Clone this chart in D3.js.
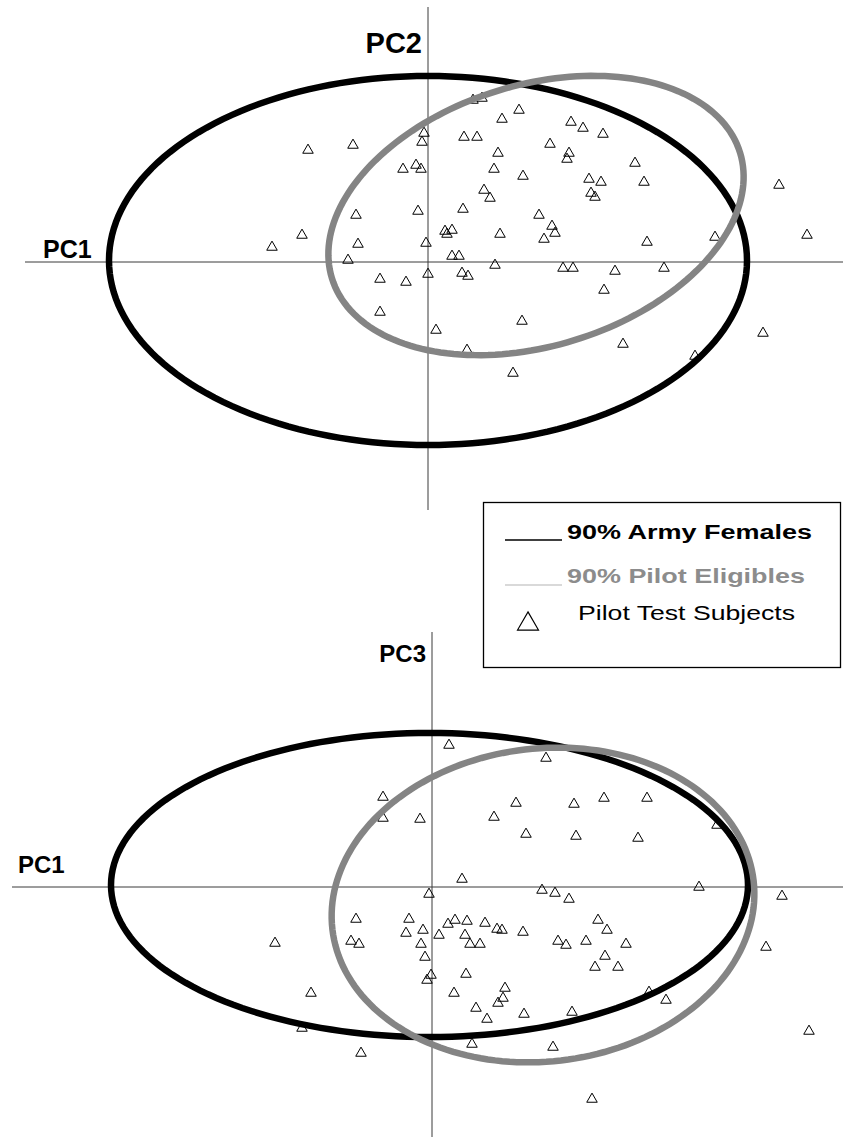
<!DOCTYPE html>
<html>
<head>
<meta charset="utf-8">
<script src="https://cdn.jsdelivr.net/npm/d3@7"></script>
<style>
  body { margin: 0; background: #fff; }
  svg { display: block; }
  text { font-family: "Liberation Sans", Arial, sans-serif; }
</style>
</head>
<body>
<div id="chart"></div>
<script>
// pilot test subject scores [PC1, PC2]
const subjectsPC1PC2 = [
  [0.90, 3.26], [1.08, 3.30], [1.82, 3.06], [1.48, 2.88], [-0.08, 2.60], [-0.12, 2.42],
  [0.72, 2.52], [0.98, 2.52], [-2.40, 2.26], [-1.50, 2.36], [1.40, 2.20], [-0.50, 1.88],
  [-0.24, 1.96], [-0.14, 1.88], [1.32, 1.88], [1.90, 1.74], [1.12, 1.46], [1.24, 1.30],
  [0.70, 1.08], [-0.20, 1.04], [-1.44, 0.96], [0.34, 0.64], [0.38, 0.58], [0.48, 0.66],
  [1.44, 0.58], [-2.52, 0.56], [-3.12, 0.32], [-1.40, 0.38], [-0.04, 0.40], [-1.60, 0.06],
  [0.48, 0.14], [0.62, 0.14], [1.34, -0.04], [0.00, -0.22], [-0.96, -0.32], [-0.44, -0.38],
  [0.68, -0.20], [0.80, -0.26], [2.86, 2.82], [3.10, 2.70], [3.50, 2.58], [2.44, 2.38],
  [2.82, 2.20], [2.78, 2.08], [4.14, 2.00], [3.22, 1.68], [3.46, 1.62], [4.32, 1.62],
  [3.26, 1.40], [3.34, 1.32], [7.02, 1.56], [2.22, 0.96], [2.48, 0.74], [2.54, 0.60],
  [2.32, 0.48], [4.38, 0.42], [5.74, 0.52], [7.58, 0.56], [2.70, -0.10], [2.90, -0.10],
  [3.74, -0.16], [4.72, -0.10], [-0.96, -0.98], [0.16, -1.34], [1.88, -1.16], [0.78, -1.74],
  [1.70, -2.20], [3.52, -0.54], [3.90, -1.62], [6.70, -1.40], [5.34, -1.86]
];

// pilot test subject scores [PC1, PC3]
const subjectsPC1PC3 = [
  [0.34, 2.86], [2.28, 2.60], [-0.98, 1.82], [-0.98, 1.40], [-0.24, 1.38], [1.68, 1.70],
  [1.24, 1.42], [1.88, 1.08], [0.60, 0.18], [-0.06, -0.12], [2.20, -0.04], [2.84, 1.68],
  [3.44, 1.80], [4.30, 1.80], [2.88, 1.04], [4.12, 1.00], [5.70, 1.26], [2.46, -0.10],
  [5.34, 0.02], [7.00, -0.16], [2.74, -0.22], [-1.52, -0.62], [-0.46, -0.62], [-0.18, -0.84],
  [-0.52, -0.90], [0.32, -0.72], [0.46, -0.64], [0.70, -0.66], [1.06, -0.70], [1.30, -0.82],
  [1.40, -0.84], [1.82, -0.88], [0.14, -0.94], [0.66, -0.94], [0.76, -1.12], [0.96, -1.12],
  [-0.22, -1.12], [-3.14, -1.10], [-1.62, -1.06], [-1.46, -1.12], [-0.14, -1.38], [-0.02, -1.74],
  [-0.10, -1.84], [0.68, -1.72], [-2.42, -2.10], [0.44, -2.10], [1.46, -2.00], [1.42, -2.20],
  [1.32, -2.30], [0.88, -2.40], [1.10, -2.62], [1.84, -2.52], [-2.60, -2.80], [0.80, -3.12],
  [3.32, -0.64], [3.50, -0.84], [2.52, -1.06], [2.68, -1.14], [3.08, -1.06], [3.88, -1.12],
  [3.46, -1.36], [3.26, -1.58], [3.72, -1.58], [6.68, -1.18], [4.34, -2.08], [4.68, -2.24],
  [2.80, -2.48], [7.54, -2.86], [2.42, -3.18], [-1.42, -3.30], [3.20, -4.22]
];

// 90% ellipses: [centre x, centre y, semi axis a, semi axis b, angle deg]
const armyFemalesPC1PC2 = [0.00, 0.03, 6.38, 3.69, 0];
const pilotEligiblesPC1PC2 = [2.16, 0.93, 4.27, 2.61, 17.1];
const armyFemalesPC1PC3 = [-0.05, 0.04, 6.37, 3.04, 0];
const pilotEligiblesPC1PC3 = [2.22, -0.36, 4.24, 3.13, 6.6];

// axis extents (data units)
const topAxisX = [-8.06, 8.3];
const topAxisY = [-4.96, 5.1];
const bottomAxisX = [-8.4, 8.22];
const bottomAxisY = [-5.0, 5.1];

const legendLabels = ["90% Army Females", "90% Pilot Eligibles", "Pilot Test Subjects"];

const width = 843;
const height = 1139;
const black = "#000";
const grey = "#848484";

const svg = d3.select("#chart")
  .append("svg")
  .attr("width", width)
  .attr("height", height);

const ellipsePoints = (e) => {
  const [cx, cy, a, b, deg] = e;
  const th = deg * Math.PI / 180;
  return d3.range(0, 361, 2).map(d => {
    const t = d * Math.PI / 180;
    return [
      cx + a * Math.cos(t) * Math.cos(th) - b * Math.sin(t) * Math.sin(th),
      cy + a * Math.cos(t) * Math.sin(th) + b * Math.sin(t) * Math.cos(th)
    ];
  });
};

function drawPanel(opts) {
  const x = d3.scaleLinear().domain([-8, 8]).range(opts.xRange);
  const y = d3.scaleLinear().domain([-5, 5]).range(opts.yRange);
  const g = svg.append("g");

  // axes through the origin
  g.append("line")
    .attr("x1", x(opts.axisX[0])).attr("x2", x(opts.axisX[1]))
    .attr("y1", y(0)).attr("y2", y(0))
    .attr("stroke", "#3a3a3a").attr("stroke-width", 1);
  g.append("line")
    .attr("x1", x(0)).attr("x2", x(0))
    .attr("y1", y(opts.axisY[0])).attr("y2", y(opts.axisY[1]))
    .attr("stroke", "#3a3a3a").attr("stroke-width", 1);

  // subjects
  g.append("g")
    .selectAll("path")
    .data(opts.points)
    .enter()
    .append("path")
    .attr("d", d3.symbol(d3.symbolTriangle, 48))
    .attr("transform", d => `translate(${x(d[0])},${y(d[1]) + 1.2})`)
    .attr("fill", "none")
    .attr("stroke", black)
    .attr("stroke-width", 1);

  const line = d3.line()
    .x(d => x(d[0]))
    .y(d => y(d[1]))
    .curve(d3.curveLinearClosed);

  g.append("path")
    .attr("d", line(ellipsePoints(opts.army)))
    .attr("fill", "none")
    .attr("stroke", black)
    .attr("stroke-width", 6.5);

  g.append("path")
    .attr("d", line(ellipsePoints(opts.pilot)))
    .attr("fill", "none")
    .attr("stroke", grey)
    .attr("stroke-width", 6.5);

  // axis titles
  g.append("text")
    .attr("x", opts.pc1Label[0]).attr("y", opts.pc1Label[1])
    .attr("font-weight", "bold").attr("font-size", opts.pc1Label[2])
    .text("PC1");
  g.append("text")
    .attr("x", x(0) - 6).attr("y", opts.yLabel[1])
    .attr("text-anchor", "end")
    .attr("font-weight", "bold").attr("font-size", opts.yLabel[2])
    .text(opts.yLabel[0]);
}

drawPanel({
  xRange: [28, 828], yRange: [512, 12],
  axisX: topAxisX, axisY: topAxisY,
  points: subjectsPC1PC2,
  army: armyFemalesPC1PC2, pilot: pilotEligiblesPC1PC2,
  pc1Label: [43, 258, 25], yLabel: ["PC2", 53, 29]
});

drawPanel({
  xRange: [32, 832], yRange: [1137, 637],
  axisX: bottomAxisX, axisY: bottomAxisY,
  points: subjectsPC1PC3,
  army: armyFemalesPC1PC3, pilot: pilotEligiblesPC1PC3,
  pc1Label: [18, 873, 24], yLabel: ["PC3", 662, 24]
});

// legend (its text is stretched wide in the original)
const legend = svg.append("g");
legend.append("rect")
  .attr("x", 483.5).attr("y", 502.5)
  .attr("width", 357).attr("height", 165)
  .attr("fill", "#fff")
  .attr("stroke", black).attr("stroke-width", 1.3);

legend.append("line")
  .attr("x1", 505).attr("x2", 562).attr("y1", 540).attr("y2", 540)
  .attr("stroke", black).attr("stroke-width", 1.5);
legend.append("line")
  .attr("x1", 505).attr("x2", 562).attr("y1", 585).attr("y2", 585)
  .attr("stroke", "#b4b4b4").attr("stroke-width", 1.2);

legend.append("text")
  .attr("x", 567).attr("y", 539)
  .attr("font-size", 20).attr("font-weight", "bold").attr("fill", black)
  .attr("textLength", 245).attr("lengthAdjust", "spacingAndGlyphs")
  .text(legendLabels[0]);
legend.append("text")
  .attr("x", 567).attr("y", 583)
  .attr("font-size", 20).attr("font-weight", "bold").attr("fill", "#8c8c8c")
  .attr("textLength", 238).attr("lengthAdjust", "spacingAndGlyphs")
  .text(legendLabels[1]);

legend.append("path")
  .attr("d", d3.symbol(d3.symbolTriangle, 190))
  .attr("transform", "translate(528,624)")
  .attr("fill", "none")
  .attr("stroke", black)
  .attr("stroke-width", 1.2);
legend.append("text")
  .attr("x", 578).attr("y", 620)
  .attr("font-size", 20).attr("fill", black)
  .attr("textLength", 217).attr("lengthAdjust", "spacingAndGlyphs")
  .text(legendLabels[2]);
</script>
</body>
</html>
